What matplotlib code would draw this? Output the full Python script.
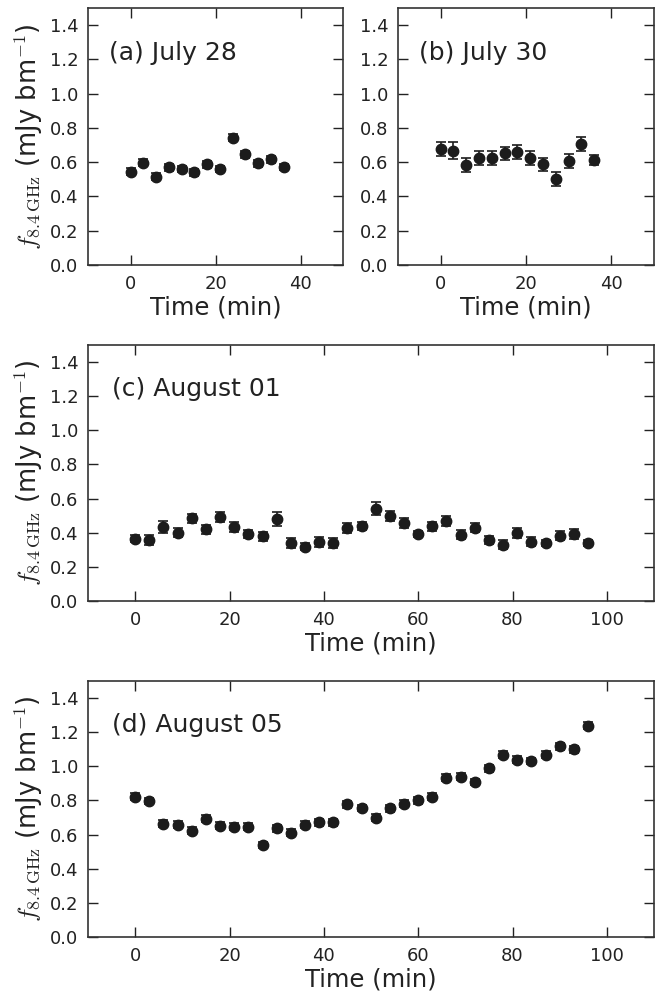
import matplotlib
matplotlib.use("Agg")
import matplotlib.pyplot as plt
import numpy as np

# ---- data ----
t_a = [0, 3, 6, 9, 12, 15, 18, 21, 24, 27, 30, 33, 36]
f_a = [0.544, 0.597, 0.515, 0.570, 0.560, 0.542, 0.589, 0.560, 0.743, 0.646, 0.593, 0.618, 0.572]
e_a = [0.02, 0.02, 0.02, 0.02, 0.02, 0.02, 0.02, 0.02, 0.02, 0.02, 0.02, 0.02, 0.02]

t_b = [0, 3, 6, 9, 12, 15, 18, 21, 24, 27, 30, 33, 36]
f_b = [0.675, 0.667, 0.583, 0.624, 0.624, 0.651, 0.659, 0.624, 0.587, 0.500, 0.609, 0.706, 0.611]
e_b = [0.04, 0.05, 0.04, 0.04, 0.04, 0.04, 0.04, 0.04, 0.04, 0.04, 0.04, 0.04, 0.03]

t_c = [0, 3, 6, 9, 12, 15, 18, 21, 24, 27, 30, 33, 36, 39, 42, 45, 48,
       51, 54, 57, 60, 63, 66, 69, 72, 75, 78, 81, 84, 87, 90, 93, 96]
f_c = [0.364, 0.358, 0.432, 0.401, 0.484, 0.420, 0.492, 0.432, 0.393, 0.379,
       0.480, 0.338, 0.319, 0.346, 0.342, 0.426, 0.439, 0.541, 0.498, 0.459,
       0.393, 0.437, 0.467, 0.389, 0.430, 0.358, 0.331, 0.399, 0.348, 0.340,
       0.383, 0.391, 0.340]
e_c = [0.02, 0.03, 0.035, 0.025, 0.025, 0.025, 0.03, 0.03, 0.025, 0.025,
       0.04, 0.03, 0.02, 0.03, 0.03, 0.03, 0.025, 0.04, 0.03, 0.03,
       0.02, 0.025, 0.03, 0.025, 0.025, 0.025, 0.025, 0.03, 0.025, 0.02,
       0.025, 0.03, 0.02]

t_d = t_c
f_d = [0.821, 0.797, 0.665, 0.657, 0.622, 0.692, 0.653, 0.647, 0.647, 0.539,
       0.638, 0.612, 0.657, 0.673, 0.671, 0.778, 0.756, 0.700, 0.754, 0.782,
       0.801, 0.821, 0.933, 0.939, 0.908, 0.988, 1.067, 1.038, 1.031, 1.067,
       1.118, 1.099, 1.239]
e_d = [0.02] * 33

labels = ["(a) July 28", "(b) July 30", "(c) August 01", "(d) August 05"]
yticks = [0.0, 0.2, 0.4, 0.6, 0.8, 1.0, 1.2, 1.4]

# ---- figure ----
W, H = 663, 993
fig = plt.figure(figsize=(W / 100, H / 100), dpi=100)

def rect(x0, x1, ytop, ybot):
    return [x0 / W, 1 - ybot / H, (x1 - x0) / W, (ybot - ytop) / H]

axes = [
    fig.add_axes(rect(88, 343, 8, 265)),
    fig.add_axes(rect(398, 654, 8, 265)),
    fig.add_axes(rect(88, 654, 345, 601)),
    fig.add_axes(rect(88, 654, 681, 937)),
]
data = [(t_a, f_a, e_a), (t_b, f_b, e_b), (t_c, f_c, e_c), (t_d, f_d, e_d)]
xlims = [(-10, 50), (-10, 50), (-10, 110), (-10, 110)]
xticks = [[0, 20, 40], [0, 20, 40], [0, 20, 40, 60, 80, 100], [0, 20, 40, 60, 80, 100]]

col = "#1c1c1c"
for i, ax in enumerate(axes):
    t, f, e = data[i]
    ax.errorbar(t, f, yerr=e, fmt="o", color=col, ms=7.5, capsize=3.5,
                elinewidth=1.2, capthick=1.2, mec=col, mfc=col)
    ax.set_xlim(*xlims[i])
    ax.set_ylim(0, 1.5)
    ax.set_xticks(xticks[i])
    ax.set_yticks(yticks)
    ax.set_yticklabels([f"{v:.1f}" for v in yticks])
    ax.tick_params(direction="in", top=True, right=True, length=7, width=1,
                   labelsize=13, colors="#222222", pad=7)
    for s in ax.spines.values():
        s.set_color("#333333")
        s.set_linewidth(1.2)
    ax.set_xlabel("Time (min)", fontsize=17.5, color="#222222", labelpad=2)
    ax.text(-5, 1.24, labels[i], fontsize=18, ha="left", va="center", color="#222222")
    if i != 1:
        ax.set_ylabel(r"$f_{8.4\,\rm GHz}$ (mJy bm$^{\mathsf{-1}}$)", fontsize=18.5,
                      color="#222222", math_fontfamily="cm", labelpad=3)

fig.savefig("out.png", dpi=100)
